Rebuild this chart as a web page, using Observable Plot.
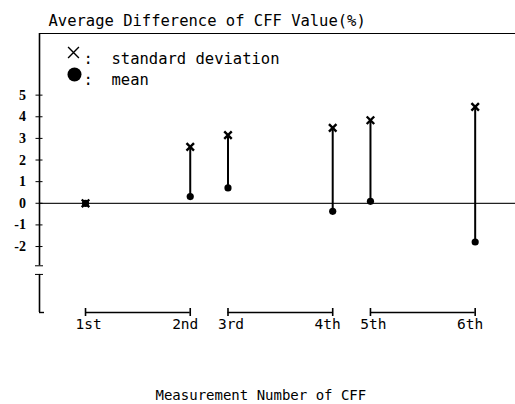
<!DOCTYPE html>
<html><head><meta charset="utf-8">
<script src="https://cdn.jsdelivr.net/npm/d3@7"></script>
<script src="https://cdn.jsdelivr.net/npm/@observablehq/plot@0.6"></script>
<style>body{margin:0;background:#fff} svg{display:block;background:#fff}</style>
</head><body><div id="chart"></div>
<script>
// ---- data ----
const measurements = ["1st", "2nd", "3rd", "4th", "5th", "6th"];
const xPos = [0, 0.735, 1, 1.735, 2, 2.735];           // horizontal position of each measurement
const meanValues = [0, 0.31, 0.71, -0.37, 0.09, -1.79];
const sdValues = [0, 2.61, 3.15, 3.49, 3.84, 4.46];
const yTicks = [-2, -1, 0, 1, 2, 3, 4, 5];
const yBreak = [-2.89, -3.29];
const pairs = [["1st", "2nd"], ["3rd", "4th"], ["5th", "6th"]];
const yDomain = [-5.05, 7.85];
const xDomain = [-0.323, 3.018];
const titleText = "Average Difference of CFF Value(%)";
const xTitleText = "Measurement Number of CFF";
const legendLabels = [":  standard deviation", ":  mean"];

// ---- tables built from arrays ----
const rows = measurements.map((m, i) => ({m, x: xPos[i], mean: meanValues[i], sd: sdValues[i], i}));
const posOf = Object.fromEntries(measurements.map((m, i) => [m, xPos[i]]));
const pairRows = pairs.map(([a, b]) => ({x1: posOf[a], x2: posOf[b]}));

const mono = "'DejaVu Sans Mono', 'Liberation Mono', monospace";

const chart = Plot.plot({
  width: 515,
  height: 404,
  marginLeft: 39,
  marginRight: 0,
  marginTop: 33,
  marginBottom: 92,
  x: {domain: xDomain, axis: null},
  y: {domain: yDomain},
  style: {background: "#fff", color: "#000"},
  marks: [
    // frame top line and zero line
    Plot.ruleY([yDomain[1]], {stroke: "#000", strokeWidth: 1}),
    Plot.ruleY([0], {stroke: "#222", strokeWidth: 1.2}),
    // broken left axis
    Plot.ruleX([{a: yDomain[1], b: yBreak[0]}, {a: yBreak[1], b: yDomain[0]}],
      {x: xDomain[0], y1: "a", y2: "b", stroke: "#000", strokeWidth: 1.6}),
    Plot.ruleY([yDomain[0]], {x1: xDomain[0], x2: xDomain[0] + 0.035, stroke: "#000", strokeWidth: 1.4}),
    Plot.axisY(yTicks, {
      tickSize: 7, dx: 3.5, tickPadding: 10,
      tickFormat: d => String(d),
      fontSize: 14, fontWeight: "bold",
      fontFamily: "'Liberation Serif', 'DejaVu Serif', serif",
      stroke: "#000"
    }),
    Plot.axisY(yBreak, {tickSize: 8, dx: 4, tickFormat: () => "", stroke: "#000"}),
    // measurement brackets
    Plot.ruleY(pairRows, {y: yDomain[0], x1: "x1", x2: "x2", stroke: "#000", strokeWidth: 1.6}),
    Plot.ruleX(rows, {x: "x", y1: yDomain[0], y2: yDomain[0], insetTop: -4, insetBottom: -4, stroke: "#000", strokeWidth: 1.6}),
    Plot.text(rows.filter(d => d.i % 2 === 0), {x: "x", y: yDomain[0], text: "m", dy: 12, dx: 3,
      fontSize: 14.5, fontFamily: mono, fill: "#000"}),
    Plot.text(rows.filter(d => d.i % 2 === 1), {x: "x", y: yDomain[0], text: "m", dy: 12, dx: -5,
      fontSize: 14.5, fontFamily: mono, fill: "#000"}),
    // data: lines from mean to sd
    Plot.ruleX(rows, {x: "x", y1: "mean", y2: "sd", stroke: "#000", strokeWidth: 2}),
    Plot.dot(rows, {x: "x", y: "sd", symbol: "times", r: 3.5, stroke: "#000", strokeWidth: 2.4}),
    Plot.dot(rows, {x: "x", y: "mean", r: 3.6, fill: "#000", stroke: "none"}),
    // legend
    Plot.dot([0], {frameAnchor: "top-left", dx: 34, dy: 19, symbol: "times", r: 5, stroke: "#000", strokeWidth: 1.4}),
    Plot.dot([0], {frameAnchor: "top-left", dx: 35, dy: 41, r: 7, fill: "#000", stroke: "none"}),
    Plot.text([legendLabels[0]], {frameAnchor: "top-left", dx: 44, dy: 19, textAnchor: "start",
      fontSize: 15.5, fontFamily: mono, fill: "#000"}),
    Plot.text([legendLabels[1]], {frameAnchor: "top-left", dx: 44, dy: 40, textAnchor: "start",
      fontSize: 15.5, fontFamily: mono, fill: "#000"}),
    // titles
    Plot.text([titleText], {frameAnchor: "top-left", dx: 9, dy: -19, textAnchor: "start",
      fontSize: 15.5, fontFamily: mono, fill: "#000"}),
    Plot.text([xTitleText], {frameAnchor: "bottom-left", dx: 116, dy: 87, textAnchor: "start",
      fontSize: 14, fontFamily: mono, fill: "#000"})
  ]
});
document.getElementById("chart").append(chart);
</script>
</body></html>
